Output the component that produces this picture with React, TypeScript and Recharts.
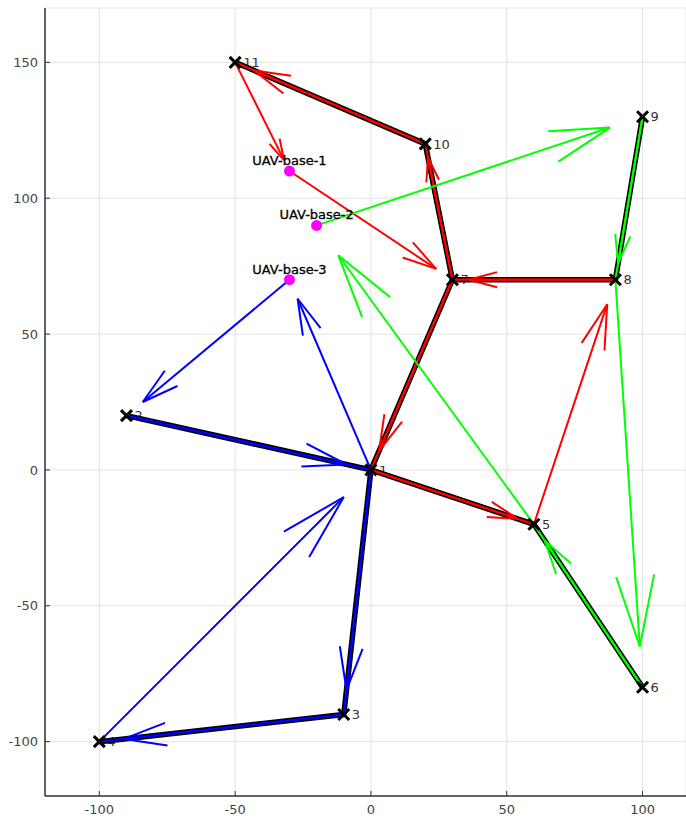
import React from 'react';
import {
  ScatterChart,
  Scatter,
  XAxis,
  YAxis,
  CartesianGrid,
  ReferenceLine,
} from 'recharts';

// Task nodes
const nodeNames = ['1', '2', '3', '4', '5', '6', '7', '8', '9', '10', '11'];
const nodeX = [0, -90, -10, -100, 60, 100, 30, 90, 100, 20, -50];
const nodeY = [0, 20, -90, -100, -20, -80, 70, 70, 130, 120, 150];

// UAV bases
const baseNames = ['UAV-base-1', 'UAV-base-2', 'UAV-base-3'];
const baseX = [-30, -20, -30];
const baseY = [110, 90, 70];

const uavColors = ['#ff0000', '#00ff00', '#0000ff'];

// Routes ('B' = the UAV's own base, numbers = node names)
const route1 = ['B', 7, 1, 5, 8, 7, 10, 11, 'B'];
const route2 = ['B', 9, 8, 6, 5, 'B'];
const route3 = ['B', 2, 1, 3, 4, 1, 'B'];

// Edges served by each UAV
const served1 = [[11, 10], [10, 7], [7, 8], [7, 1], [1, 5]];
const served2 = [[9, 8], [6, 5]];
const served3 = [[2, 1], [1, 3], [3, 4]];

const xTicks = [-100, -50, 0, 50, 100];
const yTicks = [-100, -50, 0, 50, 100, 150];

const routes = [route1, route2, route3];
const served = [served1, served2, served3];

const nodeData = nodeNames.map((name, i) => ({ name, x: nodeX[i], y: nodeY[i] }));
const baseData = baseNames.map((name, i) => ({ name, x: baseX[i], y: baseY[i] }));

const stopPos = (stop: string | number, uav: number) =>
  stop === 'B'
    ? { x: baseX[uav], y: baseY[uav] }
    : { x: nodeX[(stop as number) - 1], y: nodeY[(stop as number) - 1] };

const FONT = '"DejaVu Sans", sans-serif';

// quiver-style arrow: shaft drawn to 90% of the way, open V head
const ArrowShape = (props: any) => {
  const { x1, y1, x2, y2, stroke } = props;
  if ([x1, y1, x2, y2].some((v) => typeof v !== 'number' || isNaN(v))) return null;
  const tx = x1 + 0.9 * (x2 - x1);
  const ty = y1 + 0.9 * (y2 - y1);
  const len = Math.hypot(tx - x1, ty - y1);
  const ux = (x1 - tx) / len;
  const uy = (y1 - ty) / len;
  const head = 0.2 * len;
  const a = (15 * Math.PI) / 180;
  const rot = (s: number) => ({
    x: tx + head * (ux * Math.cos(s * a) - uy * Math.sin(s * a)),
    y: ty + head * (ux * Math.sin(s * a) + uy * Math.cos(s * a)),
  });
  const b1 = rot(1);
  const b2 = rot(-1);
  return (
    <g stroke={stroke} strokeWidth={2} fill="none">
      <line x1={x1} y1={y1} x2={tx} y2={ty} />
      <line x1={tx} y1={ty} x2={b1.x} y2={b1.y} />
      <line x1={tx} y1={ty} x2={b2.x} y2={b2.y} />
    </g>
  );
};

const NodeLabel = (props: any) => {
  const { cx, cy, payload } = props;
  return (
    <text x={cx + 8} y={cy} dy="0.36em" fontSize={13} fill="#333" fontFamily={FONT}>
      {payload.name}
    </text>
  );
};

const NodeMarker = (props: any) => {
  const { cx, cy } = props;
  const s = 5.5;
  return (
    <g stroke="#000" strokeWidth={3}>
      <line x1={cx - s} y1={cy - s} x2={cx + s} y2={cy + s} />
      <line x1={cx - s} y1={cy + s} x2={cx + s} y2={cy - s} />
    </g>
  );
};

const BaseMarker = (props: any) => {
  const { cx, cy, payload } = props;
  return (
    <g>
      <circle cx={cx} cy={cy} r={5.5} fill="#ff00ff" />
      <text
        x={cx}
        y={cy - 6}
        textAnchor="middle"
        fontSize={13}
        fill="#000"
        stroke="#000"
        strokeWidth={0.3}
        fontFamily={FONT}
      >
        {payload.name}
      </text>
    </g>
  );
};

const YTick = (props: any) => {
  const { x, y, payload } = props;
  return (
    <g>
      <line x1={x + 7} y1={y} x2={x + 12} y2={y} stroke="#333" />
      <text x={x} y={y} dy="0.36em" textAnchor="end" fontSize={13} fill="#444" fontFamily={FONT}>
        {payload.value}
      </text>
    </g>
  );
};

const XTick = (props: any) => {
  const { x, y, payload } = props;
  return (
    <g>
      <line x1={x} y1={y} x2={x} y2={y - 5} stroke="#333" />
      <text x={x} y={y + 18} textAnchor="middle" fontSize={13} fill="#444" fontFamily={FONT}>
        {payload.value}
      </text>
    </g>
  );
};

const App: React.FC = () => {
  return (
    <div style={{ position: 'absolute', left: 0, top: 0, width: 686, height: 820, background: '#fff' }}>
      <ScatterChart
        width={686}
        height={820}
        margin={{ top: 8, right: 0, bottom: 0, left: 0 }}
        style={{ fontFamily: FONT }}
      >
        <CartesianGrid stroke="#e3e3e3" strokeWidth={1} />
        <XAxis
          type="number"
          dataKey="x"
          domain={[-120, 116]}
          ticks={xTicks}
          allowDataOverflow
          height={24}
          tickSize={0}
          tickMargin={0}
          tick={<XTick />}
          axisLine={{ stroke: '#333', strokeWidth: 1.5 }}
          tickLine={false}
        />
        <YAxis
          type="number"
          dataKey="y"
          domain={[-120, 170]}
          ticks={yTicks}
          allowDataOverflow
          width={45}
          tickSize={0}
          tickMargin={7}
          tick={<YTick />}
          axisLine={{ stroke: '#333', strokeWidth: 1.5 }}
          tickLine={false}
        />
        <Scatter data={nodeData} shape={<NodeLabel />} isAnimationActive={false} zIndex={300} />
        {served.map((edges, u) =>
          edges.map(([a, b], i) => (
            <ReferenceLine
              key={`eb-${u}-${i}`}
              segment={[
                { x: nodeX[a - 1], y: nodeY[a - 1] },
                { x: nodeX[b - 1], y: nodeY[b - 1] },
              ]}
              stroke="#000"
              strokeWidth={5.5}
              ifOverflow="visible"
              zIndex={400}
            />
          ))
        )}
        {served.map((edges, u) =>
          edges.map(([a, b], i) => (
            <ReferenceLine
              key={`ec-${u}-${i}`}
              segment={[
                { x: nodeX[a - 1], y: nodeY[a - 1] },
                { x: nodeX[b - 1], y: nodeY[b - 1] },
              ]}
              stroke={uavColors[u]}
              strokeWidth={2.2}
              ifOverflow="visible"
              zIndex={400}
            />
          ))
        )}
        {routes.map((route, u) =>
          route.slice(0, -1).map((stop, i) => {
            const p = stopPos(stop, u);
            const q = stopPos(route[i + 1], u);
            return (
              <ReferenceLine
                key={`ar-${u}-${i}`}
                segment={[p, q]}
                stroke={uavColors[u]}
                shape={ArrowShape}
                ifOverflow="visible"
                zIndex={400}
              />
            );
          })
        )}
        <Scatter data={nodeData} shape={<NodeMarker />} isAnimationActive={false} zIndex={600} />
        <Scatter data={baseData} shape={<BaseMarker />} isAnimationActive={false} zIndex={600} />
      </ScatterChart>
    </div>
  );
};

export default App;
